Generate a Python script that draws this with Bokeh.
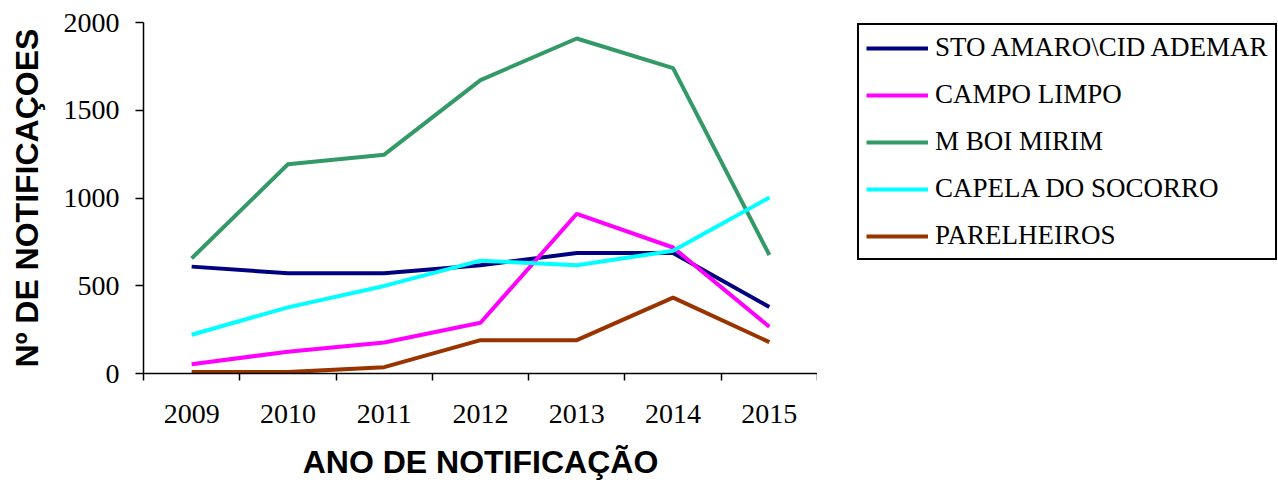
from bokeh.plotting import figure
from bokeh.layouts import row
from bokeh.models import Range1d, FixedTicker, Legend, LegendItem
from bokeh.embed import file_html
from bokeh.resources import INLINE

years = ["2009", "2010", "2011", "2012", "2013", "2014", "2015"]
sto_amaro = [609, 571, 571, 617, 686, 686, 379]
campo_limpo = [53, 124, 177, 289, 910, 718, 266]
m_boi_mirim = [656, 1192, 1247, 1672, 1909, 1740, 675]
capela_socorro = [221, 377, 499, 643, 617, 699, 1003]
parelheiros = [8, 8, 36, 190, 190, 432, 179]

series_names = ["STO AMARO\\CID ADEMAR", "CAMPO LIMPO", "M BOI MIRIM",
                "CAPELA DO SOCORRO", "PARELHEIROS"]
series_values = [sto_amaro, campo_limpo, m_boi_mirim, capela_socorro, parelheiros]
colors = ["#000080", "#FF00FF", "#339966", "#00FFFF", "#993300"]

xs = [i + 0.5 for i in range(len(years))]

p = figure(width=817, height=482, output_backend="svg", toolbar_location=None,
           x_range=Range1d(0, len(years)), y_range=Range1d(0, 2000),
           min_border_left=143, min_border_top=22, min_border_bottom=109,
           min_border_right=0)
p.outline_line_color = None
p.xgrid.visible = False
p.ygrid.visible = False
p.background_fill_color = "white"
p.border_fill_color = "white"

for vals, c in zip(series_values, colors):
    p.line(xs, vals, line_color=c, line_width=4)

# x axis: labels at centers, ticks at category boundaries
p.xaxis.ticker = FixedTicker(ticks=xs, minor_ticks=list(range(len(years) + 1)))
p.xaxis.major_label_overrides = {x: y for x, y in zip(xs, years)}
p.xaxis.major_tick_line_color = None
p.xaxis.minor_tick_line_color = "black"
p.xaxis.minor_tick_line_width = 1.5
p.xaxis.minor_tick_out = 7
p.xaxis.minor_tick_in = 0
p.xaxis.axis_line_width = 1.5
p.xaxis.major_label_text_font = "Liberation Serif"
p.xaxis.major_label_text_font_size = "28px"
p.xaxis.major_label_text_color = "black"
p.xaxis.major_label_standoff = 24
p.xaxis.axis_label = "ANO DE NOTIFICAÇÃO"
p.xaxis.axis_label_text_font = "Liberation Sans"
p.xaxis.axis_label_text_font_style = "bold"
p.xaxis.axis_label_text_font_size = "32px"
p.xaxis.axis_label_text_color = "black"
p.xaxis.axis_label_standoff = 18

p.yaxis.ticker = FixedTicker(ticks=[0, 500, 1000, 1500, 2000])
p.yaxis.minor_tick_line_color = None
p.yaxis.major_tick_out = 8
p.yaxis.major_tick_in = 0
p.yaxis.major_tick_line_width = 1.5
p.yaxis.axis_line_width = 1.5
p.yaxis.major_label_text_font = "Liberation Serif"
p.yaxis.major_label_text_font_size = "28px"
p.yaxis.major_label_text_color = "black"
p.yaxis.major_label_standoff = 16
p.yaxis.axis_label = "Nº DE NOTIFICAÇOES"
p.yaxis.axis_label_text_font = "Liberation Sans"
p.yaxis.axis_label_text_font_style = "bold"
p.yaxis.axis_label_text_font_size = "32px"
p.yaxis.axis_label_text_color = "black"
p.yaxis.axis_label_standoff = 16

# legend panel (series drawn outside its visible range; only the legend shows)
lp = figure(width=461, height=482, output_backend="svg", toolbar_location=None,
            x_range=Range1d(-2, -1), y_range=Range1d(0, 1),
            x_axis_location=None, y_axis_location=None,
            min_border_left=0, min_border_right=0, min_border_top=22,
            min_border_bottom=109)
lp.outline_line_color = None
lp.xgrid.visible = False
lp.ygrid.visible = False
lp.background_fill_color = "white"
lp.border_fill_color = "white"

items = []
for name, vals, c in zip(series_names, series_values, colors):
    r = lp.line(xs, vals, line_color=c, line_width=4)
    items.append(LegendItem(label=name, renderers=[r]))

legend = Legend(items=items, location=(40, 113), orientation="vertical")
legend.margin = 0
legend.padding = 7
legend.spacing = 16
legend.glyph_width = 62
legend.glyph_height = 30
legend.label_height = 30
legend.label_standoff = 7
legend.label_text_font = "Liberation Serif"
legend.label_text_font_size = "27px"
legend.label_text_color = "black"
legend.border_line_color = "black"
legend.border_line_alpha = 1
legend.border_line_width = 2
legend.background_fill_color = "white"
legend.background_fill_alpha = 1
lp.add_layout(legend, "center")

layout = row(p, lp, spacing=0)
open("out.html", "w").write(file_html(layout, INLINE))
